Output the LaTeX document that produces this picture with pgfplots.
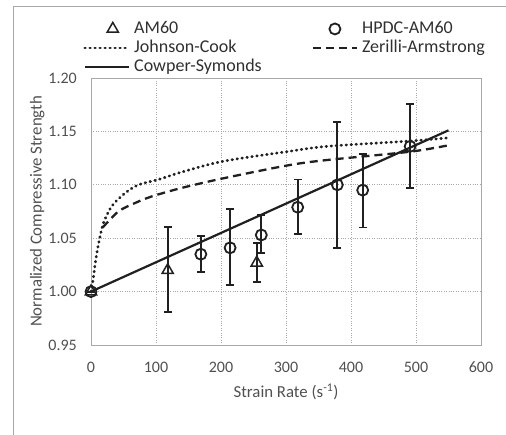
\documentclass[border=0pt]{standalone}
\usepackage{fontspec}
\setmainfont{Carlito}
\usepackage{pgfplots}
\pgfplotsset{compat=1.18}
\definecolor{txt}{HTML}{505050}
\definecolor{legtxt}{HTML}{303030}
\definecolor{gridc}{HTML}{A8A8A8}
\definecolor{ink}{HTML}{202020}
\pgfplotsset{
  legtri/.style={legend image code/.code={\draw[mark repeat=2,mark phase=2,##1] plot coordinates {(0pt,0pt)(28pt,0pt)(44pt,0pt)};}},
  legcirc/.style={legend image code/.code={\draw[mark repeat=2,mark phase=2,##1] plot coordinates {(0pt,0pt)(22pt,0pt)(44pt,0pt)};}},
  jc/.style={ink, line width=2.8pt, line cap=round, dash pattern=on 0.6pt off 4.4pt},
  za/.style={ink, line width=2.3pt, dash pattern=on 8pt off 5pt},
  cs/.style={ink, line width=2.2pt},
}

\begin{document}
\fontsize{16}{19}\selectfont
\begin{tikzpicture}
\path[use as bounding box] (0pt,0pt) rectangle (506pt,-435pt);
\draw[gridc, line width=1pt] (13pt,-7pt) rectangle (540pt,-470pt);
\begin{axis}[
    at={(91pt,-345pt)}, anchor=south west,
    scale only axis, width=390pt, height=267pt,
    xmin=0, xmax=600, ymin=0.95, ymax=1.20,
    xtick={0,100,200,300,400,500,600},
    ytick={0.95,1.00,1.05,1.10,1.15,1.20},
    yticklabel style={/pgf/number format/fixed, /pgf/number format/fixed zerofill, /pgf/number format/precision=2},
    /pgf/number format/assume math mode=true,
    tick label style={text=txt, inner sep=0pt},
    xticklabel style={anchor=center, yshift=-22pt},
    yticklabel style={anchor=east, xshift=-14pt},
    major tick length=0pt,
    grid=major,
    major grid style={gridc, dotted, line width=0.7pt},
    axis line style={gridc, line width=0.7pt},
    xlabel={Strain Rate (s\textsuperscript{-1})},
    ylabel={Normalized Compressive Strength},
    label style={text=txt, font=\fontsize{16.8}{19}\selectfont},
    xlabel style={at={(axis description cs:0.5,-0.176)}, anchor=center},
    ylabel style={at={(axis description cs:-0.138,0.5)}, anchor=center},
    clip=false,
    legend columns=2,
    legend cell align=left,
    legend style={draw=none, fill=none, text=legtxt, inner sep=0pt,
        at={(axis description cs:-0.02,1.2135)}, anchor=north west,
        row sep=3.5pt, font=\fontsize{18}{20}\selectfont,
        nodes={inner sep=0pt, text height=12pt, text depth=3.5pt},
        /tikz/every odd column/.append style={column sep=4pt},
        /tikz/every even column/.append style={column sep=50pt}},
    legend image code/.code={\draw[#1] (0pt,0pt) -- (44pt,0pt);},
]
% legend entries
\addlegendimage{only marks, mark=triangle, mark size=6.5pt, mark options={ink, line width=1.5pt}, legtri}
\addlegendentry{AM60}
\addlegendimage{only marks, mark=o, mark size=5.5pt, mark options={ink, line width=1.8pt}, legcirc}
\addlegendentry{HPDC-AM60}
\addlegendimage{jc}
\addlegendentry{Johnson-Cook}
\addlegendimage{za}
\addlegendentry{Zerilli-Armstrong}
\addlegendimage{cs}
\addlegendentry{Cowper-Symonds}

% Johnson-Cook
\addplot[forget plot, jc, smooth] coordinates {
(0,1.000)(3,1.010)(6,1.024)(9,1.036)(12,1.046)(19,1.064)(32,1.080)(52,1.092)(73,1.100)
(104,1.105)(140,1.112)(203,1.122)(301,1.131)(363,1.136)(491,1.141)(550,1.144)};
% Zerilli-Armstrong
\addplot[forget plot, za, smooth] coordinates {
(18,1.060)(42,1.075)(68,1.083)(93,1.089)(139,1.097)(203,1.106)(301,1.118)(360,1.123)(491,1.131)(550,1.137)};
% Cowper-Symonds
\addplot[forget plot, cs] coordinates {(0,1.000)(550,1.151)};

% AM60
\addplot[forget plot, only marks, mark=triangle, mark size=6.5pt, mark options={ink, line width=1.5pt},
    error bars/.cd, y dir=both, y explicit,
    error bar style={ink, line width=1.8pt},
    error mark options={rotate=90, mark size=4pt, line width=1.8pt, ink}]
coordinates {
(0,1.000) +=(0,0) -=(0,0)
(118,1.020) +=(0,0.0405) -=(0,0.039)
(255,1.027) +=(0,0.0186) -=(0,0.018)
};
% HPDC-AM60
\addplot[forget plot, only marks, mark=o, mark size=5.5pt, mark options={ink, line width=1.8pt},
    error bars/.cd, y dir=both, y explicit,
    error bar style={ink, line width=1.8pt},
    error mark options={rotate=90, mark size=4pt, line width=1.8pt, ink}]
coordinates {
(0,1.000) +=(0,0) -=(0,0)
(169,1.035) +=(0,0.017) -=(0,0.017)
(214,1.041) +=(0,0.036) -=(0,0.035)
(262,1.053) +=(0,0.019) -=(0,0.017)
(318,1.079) +=(0,0.026) -=(0,0.025)
(379,1.100) +=(0,0.059) -=(0,0.059)
(418,1.095) +=(0,0.034) -=(0,0.035)
(491,1.136) +=(0,0.040) -=(0,0.039)
};
\end{axis}
\end{tikzpicture}
\end{document}
